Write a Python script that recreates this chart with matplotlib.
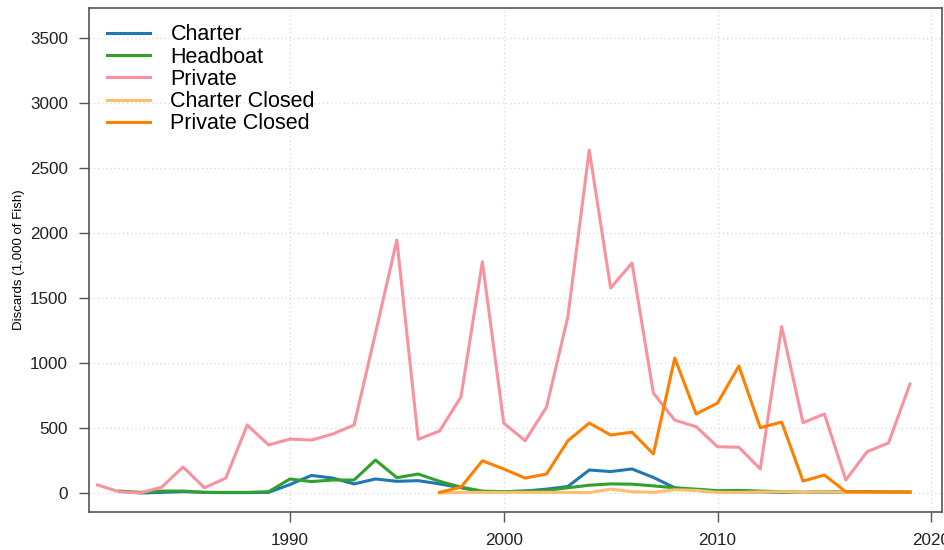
import matplotlib
matplotlib.use("Agg")
import matplotlib.pyplot as plt

# Discards by mode, 1981-2019
years = list(range(1981, 2020))

private = [62, 10, 0, 45, 200, 40, 115, 523, 370, 415,
           407, 454, 523, 1230, 1946, 413, 477, 740, 1779, 538,
           402, 660, 1356, 2638, 1577, 1769, 769, 561, 510, 356,
           352, 185, 1280, 541, 608, 100, 318, 385, 838]

headboat = [None, 15, 5, 15, 15, 5, 5, 5, 10, 108,
            88, 100, 100, 254, 118, 146, 90, 45, 15, 10,
            15, 20, 40, 60, 70, 68, 55, 40, 30, 18,
            20, 15, 10, 5, 10, 5, 10, 10, 10]

charter = [None, None, 0, 5, 10, 5, 3, 3, 5, 65,
           135, 115, 70, 108, 90, 95, 70, 40, 10, 10,
           15, 30, 50, 177, 165, 185, 120, 40, 20, 10,
           8, 8, 5, 5, 8, 8, 8, 8, 8]

charter_closed = [None] * 16 + [0, 5, 5, 5,
                  5, 5, 5, 3, 30, 10, 5, 25, 20, 5,
                  5, 8, 10, 5, 10, 5, 5, 8, 10]

private_closed = [None] * 16 + [5, 45, 248, 185,
                  115, 146, 402, 538, 446, 468, 300, 1038, 608, 692,
                  977, 502, 546, 92, 138, 10, 8, 8, 8]

series = [
    ("Charter", charter, "#1f78b4"),
    ("Headboat", headboat, "#33a02c"),
    ("Private", private, "#f7929e"),
    ("Charter Closed", charter_closed, "#fdbf6f"),
    ("Private Closed", private_closed, "#ff7f00"),
]

plt.rcParams["font.family"] = ["Liberation Sans", "DejaVu Sans"]

fig = plt.figure(figsize=(9.45, 5.5), dpi=100)
ax = fig.add_axes([0.0942, 0.0691, 0.9026, 0.9164])

for name, vals, col in series:
    xs = [y for y, v in zip(years, vals) if v is not None]
    ys = [v for v in vals if v is not None]
    ax.plot(xs, ys, color=col, lw=2.2, label=name)

ax.set_xlim(1980.6, 2020.5)
ax.set_ylim(-146, 3731)
ax.set_xticks([1990, 2000, 2010, 2020])
ax.set_yticks(range(0, 3501, 500))
ax.grid(True, color="#dedede", ls=(0, (1, 2)), lw=1)
ax.set_axisbelow(True)

for sp in ax.spines.values():
    sp.set_color("#555555")
    sp.set_linewidth(1.2)
ax.tick_params(length=7, width=1, color="#555555", labelsize=12.3,
               labelcolor="#222222", pad=8)
ax.set_ylabel("Discards (1,000 of Fish)", fontsize=9.5, labelpad=4)

ax.legend(loc="upper left", frameon=False, fontsize=15.5, handlelength=2.0,
          handletextpad=0.93, labelspacing=0.06, borderaxespad=0.45,
          bbox_to_anchor=(0.0, 1.004))

fig.savefig("out.png", dpi=100)
